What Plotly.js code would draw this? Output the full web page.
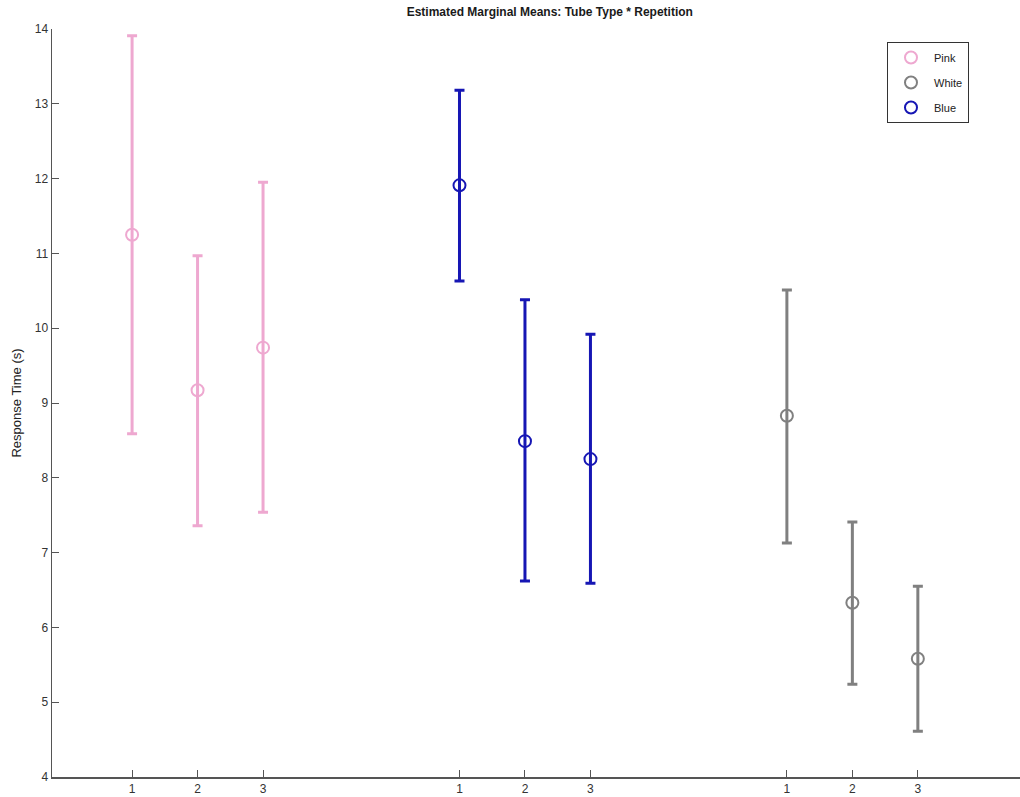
<!DOCTYPE html>
<html><head><meta charset="utf-8">
<script src="https://cdn.plot.ly/plotly-3.0.1.min.js"></script>
<style>html,body{margin:0;padding:0;background:#fff;}#chart{width:1020px;height:797px;}</style>
</head><body><div id="chart"></div>
<script>
const repetitions = ["1", "2", "3"];
const tubeTypes = ["Pink", "Blue", "White"];
const legendOrder = ["Pink", "White", "Blue"];
const colors = {Pink: "#EEA8D0", Blue: "#1616B4", White: "#808080"};
const pinkMean = [11.25, 9.17, 9.74];
const pinkUpper = [13.91, 10.97, 11.95];
const pinkLower = [8.59, 7.36, 7.54];
const blueMean = [11.91, 8.49, 8.25];
const blueUpper = [13.18, 10.38, 9.92];
const blueLower = [10.63, 6.62, 6.59];
const whiteMean = [8.83, 6.33, 5.58];
const whiteUpper = [10.51, 7.41, 6.55];
const whiteLower = [7.13, 5.24, 4.61];

const series = {
  Pink: [pinkMean, pinkUpper, pinkLower],
  Blue: [blueMean, blueUpper, blueLower],
  White: [whiteMean, whiteUpper, whiteLower]
};

const tickvals = [], ticktext = [];
const traces = tubeTypes.map((name, g) => {
  const [m, u, l] = series[name];
  const xs = repetitions.map((r, i) => g * 5 + i + 1);
  xs.forEach((x, i) => { tickvals.push(x); ticktext.push(repetitions[i]); });
  return {
    type: "scatter", mode: "markers", name: name,
    x: xs, y: m,
    legendgroup: name,
    legendrank: legendOrder.indexOf(name) + 1,
    marker: {symbol: "circle-open", size: 12, color: colors[name], line: {width: 2, color: colors[name]}},
    error_y: {type: "data", symmetric: false,
      array: m.map((v, i) => u[i] - v), arrayminus: m.map((v, i) => v - l[i]),
      color: colors[name], thickness: 3, width: 5}
  };
});

const layout = {
  width: 1020, height: 797,
  margin: {l: 52, r: 0, t: 29, b: 20},
  paper_bgcolor: "#fff", plot_bgcolor: "#fff",
  font: {family: "Liberation Sans, Arial, sans-serif", size: 12, color: "#333"},
  title: {text: "<b>Estimated Marginal Means: Tube Type * Repetition</b>", x: 0.539, xanchor: "center", y: 0.985, yanchor: "middle", font: {size: 12, color: "#1a1a1a"}},
  showlegend: true,
  legend: {x: 0.8626, y: 0.9826, xanchor: "left", yanchor: "top", bgcolor: "#fff", bordercolor: "#333", borderwidth: 1, font: {size: 11, color: "#222"}, tracegroupgap: 6, itemwidth: 36},
  xaxis: {range: [-0.223, 14.56], tickvals: tickvals, ticktext: ticktext, ticks: "inside", ticklen: 7, tickcolor: "#555", tickwidth: 1,
    showline: true, linecolor: "#555", linewidth: 1.5, showgrid: false, zeroline: false, tickfont: {size: 12, color: "#333"}, fixedrange: true},
  yaxis: {range: [4, 14], dtick: 1, ticks: "inside", ticklen: 7, tickcolor: "#555", tickwidth: 1,
    showline: true, linecolor: "#555", linewidth: 1.5, showgrid: false, zeroline: false, tickfont: {size: 12, color: "#333"},
    title: {text: "Response Time (s)", font: {size: 13, color: "#222"}, standoff: 10}}
};
Plotly.newPlot("chart", traces, layout, {displayModeBar: false, staticPlot: true});
</script></body></html>
